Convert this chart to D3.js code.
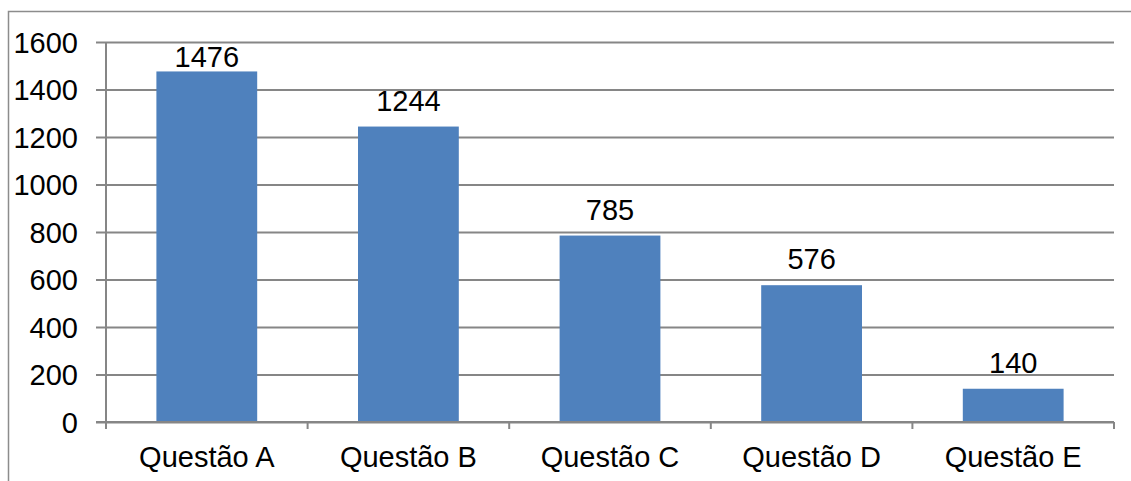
<!DOCTYPE html>
<html><head><meta charset="utf-8">
<script src="https://cdn.jsdelivr.net/npm/d3@7"></script>
<style>html,body{margin:0;padding:0;background:#fff;}svg{display:block;font-family:"Liberation Sans",Arial,sans-serif;}</style>
</head><body>
<svg id="c" width="1131" height="481"></svg>
<script>
const categories = ["Questão A","Questão B","Questão C","Questão D","Questão E"];
const values = [1476,1244,785,576,140];
const yTicks = [0,200,400,600,800,1000,1200,1400,1600];

const svg = d3.select("#c");
const L = 106, R = 1114, T = 42, B = 422;
const FS = 29;
const x = d3.scaleBand().domain(categories).range([L,R]).paddingInner(0.5).paddingOuter(0.25);
const y = d3.scaleLinear().domain([0,1600]).range([B,T]);
const grid = "#868686";

// outer border
svg.append("rect").attr("x",8.5).attr("y",11.5).attr("width",1140).attr("height",500)
  .attr("fill","none").attr("stroke","#8c8c8c").attr("stroke-width",1.5);

// gridlines + y ticks
const yAxis = d3.axisLeft(y).tickValues(yTicks).tickFormat(d3.format("d"))
  .tickSize(R-L+10).tickSizeOuter(0);
const gy = svg.append("g").attr("transform",`translate(${R},0)`).call(yAxis);
gy.select(".domain").remove();
gy.selectAll(".tick line").attr("stroke",grid).attr("stroke-width",2);
gy.selectAll(".tick text").attr("font-size",FS).attr("fill","#000")
  .attr("x",-(R-L)-28).attr("dy","0.35em");

// y axis line
svg.append("line").attr("x1",L).attr("x2",L).attr("y1",T).attr("y2",B)
  .attr("stroke",grid).attr("stroke-width",2);

// bars
svg.append("g").selectAll("rect").data(values).join("rect")
  .attr("x",(d,i)=>x(categories[i])).attr("width",x.bandwidth())
  .attr("y",d=>y(d)).attr("height",d=>B-y(d)).attr("fill","#4F81BD");

// x axis
svg.append("line").attr("x1",L-10).attr("x2",R).attr("y1",B).attr("y2",B)
  .attr("stroke",grid).attr("stroke-width",2);
const step = x.step();
const bounds = d3.range(categories.length+1).map(i=>L+i*step);
svg.append("g").selectAll("line").data(bounds).join("line")
  .attr("x1",d=>d).attr("x2",d=>d).attr("y1",B).attr("y2",B+7)
  .attr("stroke",grid).attr("stroke-width",2);
svg.append("g").selectAll("text").data(categories).join("text")
  .attr("x",d=>x(d)+x.bandwidth()/2).attr("y",467)
  .attr("text-anchor","middle").attr("font-size",FS).attr("fill","#000").text(d=>d);

// value labels
svg.append("g").selectAll("text").data(values).join("text")
  .attr("x",(d,i)=>x(categories[i])+x.bandwidth()/2)
  .attr("y",d=>Math.max(y(d)-16, T+25))
  .attr("text-anchor","middle").attr("font-size",FS).attr("fill","#000").text(d=>d);
</script>
</body></html>
